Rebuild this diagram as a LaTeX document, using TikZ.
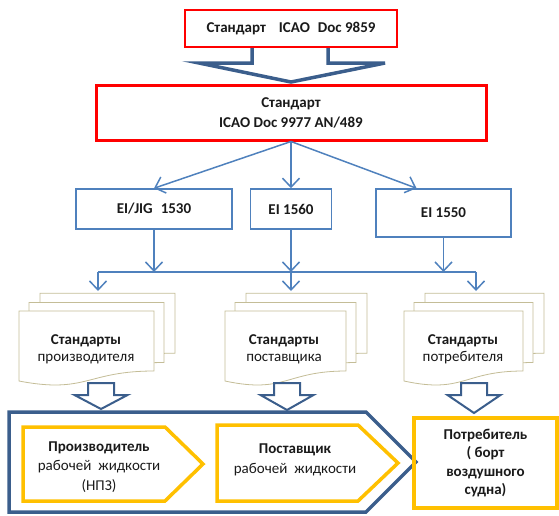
\documentclass[tikz,border=0pt]{standalone}
\usepackage{fontspec}
\setmainfont{Carlito}
\usetikzlibrary{arrows.meta, calc}
\definecolor{stdred}{HTML}{FF0000}
\definecolor{lineblue}{HTML}{4F81BD}
\definecolor{darkblue}{HTML}{3B5E8C}
\definecolor{docline}{HTML}{C4BD97}
\definecolor{stdyellow}{HTML}{FFC000}
\definecolor{ink}{HTML}{1A1A1A}

\begin{document}
\begin{tikzpicture}[x=1pt, y=-1pt, text=ink, font=\fontsize{15}{19.5}\selectfont,
    redbox/.style={draw=stdred, fill=white, align=center, inner sep=0pt, font=\fontsize{15}{20}\selectfont\bfseries},
    eibox/.style={draw=lineblue, line width=1.5pt, inner sep=0pt, minimum height=40pt, font=\fontsize{15}{19}\selectfont\bfseries},
    link/.style={draw=lineblue, line width=1.5pt, -{Straight Barb[length=9pt, width=17pt]}},
    page/.style={draw=docline, line width=0.8pt, fill=white},
    hollow/.style={draw=darkblue, line width=2pt, fill=white, line join=miter},
    chevron/.style={draw=stdyellow, line width=3.5pt, line join=miter},
    label/.style={align=center, inner sep=0pt}]
    \useasboundingbox (0,0) rectangle (559,515);
    % Standards
    \node[redbox, line width=2pt, minimum width=212pt, minimum height=37pt] (doc9859) at (291,28.5)
        {Стандарт\hspace{13pt}ICAO\hspace{8pt}Doc 9859};
    \node[redbox, line width=3pt, minimum width=390pt, minimum height=55pt] (doc9977) at (291,112.5)
        {Стандарт\\ICAO Doc 9977 AN/489};
    % Big arrow
    \draw[hollow, line width=3.5pt, shift={(doc9859.south)}] (-39,0) -- (-39,15) -- (-92,15) -- (0,34) -- (94,15) -- (37,15) -- (37,0);
    % EI boxes
    \node[eibox, minimum width=156pt] (jig) at (154,209) {EI/JIG\hspace{8pt}1530};
    \node[eibox, minimum width=81pt] (ei1560) at (291,209) {EI 1560};
    \node[eibox, minimum width=135pt, minimum height=48pt] (ei1550) at (443.5,213) {EI 1550};
    \draw[link] (doc9977.south) -- (jig.north);
    \draw[link] (doc9977.south) -- (ei1560.north);
    \draw[link] (doc9977.south) -- ([xshift=-27pt]ei1550.north);
    % Bus line
    \coordinate (busL) at (98,272);
    \coordinate (busR) at (476,272);
    \coordinate (busM) at (ei1560.south |- busL);
    \draw[lineblue, line width=1.5pt] (busL) -- (busR);
    \draw[link] (jig.south) -- (jig.south |- busL);
    \draw[link] (ei1560.south) -- (busM);
    \draw[link] (ei1550.south) -- (ei1550.south |- busL);
    \coordinate (topA) at (98,291);
    \coordinate (topB) at (291,291);
    \coordinate (topC) at (476,291);
    \draw[link] (busL) -- (topA);
    \draw[link] (busM) -- (topB);
    \draw[link] (busR) -- (topC);
    % Document stacks
    \foreach \x/\w in {19/135, 225/121, 404/119} {
        \foreach \d in {21,10,0} {
            \pgfmathsetmacro{\a}{\x+\d}
            \pgfmathsetmacro{\b}{311-0.85*\d}
            \draw[page] (\a,\b) -- ++(\w,0) -- ++(0,60)
                .. controls (\a+\w/2,\b+60) and (\a+\w/2,\b+83) .. (\a,\b+70) -- cycle;
        }
    }
    \node[label, font=\fontsize{15}{17}\selectfont] (stdA) at (86,349) {\textbf{Стандарты}\\производителя};
    \node[label, font=\fontsize{15}{17}\selectfont] (stdB) at (284,349) {\textbf{Стандарты}\\поставщика};
    \node[label, font=\fontsize{15}{17}\selectfont] (stdC) at (463,349) {\textbf{Стандарты}\\потребителя};
    % Hollow arrows
    \foreach \c/\t in {101/409, 287/410, 474/413} {
        \draw[hollow] (\c-13,383) -- (\c+13,383) -- (\c+13,395) -- (\c+26.5,395) -- (\c,\t) -- (\c-26.5,395) -- (\c-13,395) -- cycle;
    }
    % Chain
    \draw[darkblue, line width=3.5pt, line join=miter] (9,512) -- (9,412) -- (366,412) -- (416,462) -- (366,512) -- cycle;
    \draw[chevron] (23,427) -- (165,427) -- (203,464) -- (165,501) -- (23,501) -- cycle;
    \draw[chevron] (217,425) -- (358,425) -- (398,463) -- (358,501) -- (217,501) -- cycle;
    \node[label] (producer) at (99,467) {\textbf{Производитель}\\рабочей\hspace{7pt}жидкости\\(НПЗ)};
    \node[label] (supplier) at (295,460) {\textbf{Поставщик}\\рабочей\hspace{7pt}жидкости};
    \node[draw=stdyellow, line width=4.5pt, minimum width=143pt, minimum height=90pt, label, font=\fontsize{15}{18.5}\selectfont\bfseries] (consumer) at (485.5,463)
        {Потребитель\\( борт\\воздушного\\судна)};
\end{tikzpicture}
\end{document}
